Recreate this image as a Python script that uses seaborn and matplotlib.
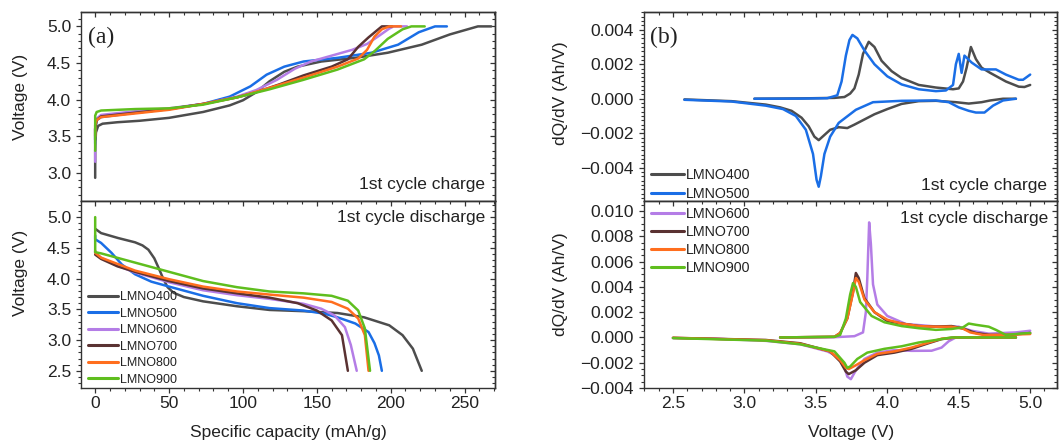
import pandas as pd
import matplotlib
matplotlib.use("Agg")
import matplotlib.pyplot as plt
import seaborn as sns
from matplotlib.ticker import MultipleLocator, FixedLocator, FuncFormatter
from matplotlib.lines import Line2D

samples = ["LMNO400", "LMNO500", "LMNO600", "LMNO700", "LMNO800", "LMNO900"]
colors = ["#4d4d4d", "#1a6ee6", "#b47de6", "#5a3232", "#ff6e1e", "#5fbe1e"]

# ---- (a) first charge: specific capacity (mAh/g) vs voltage (V) ----
cap_chg_400 = [0, 0, 0.5, 2, 5, 15, 30, 50, 73, 91, 100, 109, 118, 128, 137, 153, 176, 198, 221, 240, 259, 268]
v_chg_400 = [2.93, 3.3, 3.55, 3.64, 3.67, 3.69, 3.71, 3.75, 3.83, 3.92, 3.99, 4.1, 4.25, 4.38, 4.45, 4.52, 4.57, 4.64, 4.75, 4.89, 5.0, 5.0]
cap_chg_500 = [0, 0, 1, 4, 27, 50, 73, 91, 105, 116, 128, 141, 164, 187, 205, 219, 230, 238]
v_chg_500 = [3.4, 3.6, 3.72, 3.76, 3.82, 3.87, 3.94, 4.04, 4.18, 4.34, 4.45, 4.52, 4.57, 4.64, 4.75, 4.92, 5.0, 5.0]
cap_chg_600 = [0, 0, 1, 4, 27, 50, 73, 96, 109, 123, 135, 146, 160, 174, 184, 192, 199, 202, 211]
v_chg_600 = [3.15, 3.6, 3.74, 3.79, 3.84, 3.88, 3.94, 4.04, 4.13, 4.27, 4.42, 4.52, 4.6, 4.68, 4.76, 4.87, 4.97, 5.0, 5.0]
cap_chg_700 = [0, 0, 1, 4, 27, 50, 73, 96, 109, 125, 141, 160, 171, 178, 185, 194, 201]
v_chg_700 = [3.45, 3.6, 3.72, 3.77, 3.82, 3.87, 3.94, 4.03, 4.1, 4.21, 4.33, 4.45, 4.55, 4.72, 4.85, 5.0, 5.0]
cap_chg_800 = [0, 0, 1, 4, 27, 50, 73, 96, 118, 141, 164, 178, 184, 189, 194, 199, 207]
v_chg_800 = [3.5, 3.65, 3.72, 3.76, 3.81, 3.86, 3.94, 4.03, 4.16, 4.3, 4.45, 4.56, 4.68, 4.86, 4.96, 5.0, 5.0]
cap_chg_900 = [0, 0, 1, 4, 27, 50, 73, 96, 118, 141, 164, 182, 189, 198, 208, 214, 223]
v_chg_900 = [3.3, 3.78, 3.83, 3.85, 3.87, 3.88, 3.93, 4.03, 4.14, 4.27, 4.41, 4.55, 4.66, 4.83, 4.96, 5.0, 5.0]

# ---- (a) first discharge ----
cap_dis_400 = [0, 4, 15.5, 27, 32, 36, 40, 43, 46, 49, 53, 60, 73, 96, 118, 141, 164, 182, 199, 208, 215, 221]
v_dis_400 = [4.81, 4.74, 4.66, 4.59, 4.54, 4.47, 4.33, 4.17, 4.0, 3.86, 3.77, 3.7, 3.63, 3.55, 3.49, 3.47, 3.44, 3.37, 3.24, 3.08, 2.86, 2.5]
cap_dis_500 = [0, 0, 4, 11, 18, 27, 38, 50, 73, 96, 118, 141, 155, 164, 176, 185, 189, 192, 194]
v_dis_500 = [4.7, 4.64, 4.58, 4.42, 4.23, 4.07, 3.95, 3.87, 3.72, 3.6, 3.52, 3.48, 3.43, 3.37, 3.27, 3.13, 2.95, 2.75, 2.5]
cap_dis_600 = [0, 0, 4, 15, 27, 50, 73, 96, 118, 141, 153, 162, 169, 173, 177]
v_dis_600 = [4.45, 4.42, 4.34, 4.21, 4.1, 3.94, 3.81, 3.73, 3.67, 3.59, 3.51, 3.4, 3.21, 2.92, 2.5]
cap_dis_700 = [0, 4, 15, 27, 50, 73, 96, 118, 137, 150, 160, 167, 171]
v_dis_700 = [4.39, 4.32, 4.2, 4.11, 3.96, 3.84, 3.76, 3.69, 3.6, 3.48, 3.32, 3.08, 2.5]
cap_dis_800 = [0, 0, 4, 27, 50, 73, 96, 118, 141, 160, 171, 178, 182.5, 185]
v_dis_800 = [4.45, 4.42, 4.34, 4.13, 3.99, 3.87, 3.79, 3.74, 3.69, 3.62, 3.51, 3.35, 3.08, 2.5]
cap_dis_900 = [0, 0, 0, 4, 27, 50, 73, 96, 118, 141, 160, 171, 178, 182.5, 186]
v_dis_900 = [5.0, 4.6, 4.43, 4.41, 4.26, 4.11, 3.96, 3.86, 3.79, 3.76, 3.72, 3.64, 3.48, 3.19, 2.5]

# ---- (b) dQ/dV, upper panel: LMNO400 / LMNO500 ----
vq_chg_400 = [3.07, 3.4, 3.63, 3.7, 3.74, 3.77, 3.80, 3.83, 3.87, 3.91, 3.96, 4.03, 4.10, 4.22, 4.34, 4.46, 4.50, 4.53, 4.555, 4.585, 4.62, 4.66, 4.72, 4.83, 4.92, 4.96, 5.0]
dq_chg_400 = [0, 0.00002, 0.00005, 0.0001, 0.0003, 0.0006, 0.0014, 0.0026, 0.0033, 0.003, 0.0022, 0.0016, 0.0012, 0.0008, 0.00065, 0.00055, 0.0006, 0.001, 0.0018, 0.003, 0.0023, 0.0018, 0.0015, 0.001, 0.0007, 0.00068, 0.0008]
vq_dis_400 = [4.9, 4.81, 4.72, 4.66, 4.57, 4.48, 4.34, 4.22, 4.10, 4.0, 3.91, 3.84, 3.77, 3.72, 3.66, 3.6, 3.56, 3.52, 3.49, 3.45, 3.4, 3.33, 3.25, 3.15, 2.91, 2.58]
dq_dis_400 = [0, 0, -0.0001, -0.0002, -0.00028, -0.0002, -0.00012, -0.00014, -0.0003, -0.0006, -0.0009, -0.0012, -0.0015, -0.0017, -0.00165, -0.0018, -0.0021, -0.0024, -0.0022, -0.0016, -0.0011, -0.0007, -0.0005, -0.00034, -0.00014, -0.00004]
vq_chg_500 = [3.07, 3.4, 3.58, 3.65, 3.68, 3.71, 3.735, 3.756, 3.79, 3.84, 3.91, 4.0, 4.1, 4.22, 4.34, 4.41, 4.46, 4.48, 4.50, 4.52, 4.54, 4.59, 4.66, 4.76, 4.83, 4.92, 4.95, 5.0]
dq_chg_500 = [0, 0.00001, 0.00003, 0.0002, 0.001, 0.0025, 0.0034, 0.0037, 0.0035, 0.0028, 0.002, 0.0013, 0.00083, 0.00055, 0.00044, 0.00048, 0.0008, 0.002, 0.0026, 0.0015, 0.0025, 0.0021, 0.0017, 0.0017, 0.0014, 0.0011, 0.0011, 0.0014]
vq_dis_500 = [4.9, 4.81, 4.74, 4.68, 4.62, 4.57, 4.5, 4.43, 4.34, 4.1, 3.9, 3.78, 3.66, 3.6, 3.56, 3.535, 3.52, 3.505, 3.48, 3.43, 3.36, 3.27, 3.15, 2.91, 2.58]
dq_dis_500 = [0, -0.0001, -0.0004, -0.0008, -0.0008, -0.0007, -0.0005, -0.0002, -0.0001, -0.00012, -0.0002, -0.00064, -0.0014, -0.0022, -0.0032, -0.0045, -0.0051, -0.0047, -0.0032, -0.0018, -0.001, -0.0006, -0.0004, -0.00016, -0.00006]

# ---- (b) dQ/dV, lower panel: LMNO600 - LMNO900 ----
vq_chg_600 = [3.25, 3.63, 3.77, 3.83, 3.85, 3.86, 3.873, 3.885, 3.9, 3.93, 4.0, 4.13, 4.36, 4.5, 4.59, 4.71, 4.9, 5.0]
dq_chg_600 = [0, 0.00002, 0.0001, 0.0004, 0.002, 0.0047, 0.0091, 0.0074, 0.0042, 0.0026, 0.0017, 0.00106, 0.00085, 0.00085, 0.00053, 0.0003, 0.0004, 0.00053]
vq_dis_600 = [4.9, 4.48, 4.43, 4.38, 4.31, 4.17, 4.05, 3.93, 3.84, 3.78, 3.745, 3.72, 3.7, 3.65, 3.58, 3.39, 3.15, 2.8, 2.5]
dq_dis_600 = [0, 0, -0.0003, -0.0008, -0.00105, -0.00106, -0.001, -0.0012, -0.0017, -0.0026, -0.0033, -0.0031, -0.0023, -0.0015, -0.0011, -0.00054, -0.00027, -0.0001, -0.00005]
vq_chg_700 = [3.25, 3.63, 3.67, 3.72, 3.76, 3.78, 3.80, 3.84, 3.91, 4.0, 4.1, 4.22, 4.34, 4.45, 4.53, 4.62, 4.72, 4.86, 5.0]
dq_chg_700 = [0, 0.00005, 0.00035, 0.0015, 0.0036, 0.0051, 0.0047, 0.0031, 0.002, 0.0013, 0.0011, 0.0009, 0.00086, 0.0009, 0.0007, 0.00035, 0.0002, 0.0002, 0.00035]
vq_dis_700 = [4.9, 4.48, 4.38, 4.29, 4.17, 4.05, 3.93, 3.84, 3.78, 3.73, 3.71, 3.67, 3.6, 3.39, 3.15, 2.5]
dq_dis_700 = [0, 0, -0.00013, -0.00045, -0.0009, -0.0012, -0.0014, -0.002, -0.0026, -0.0029, -0.0027, -0.0019, -0.0011, -0.00046, -0.0002, -0.00003]
vq_chg_800 = [3.25, 3.63, 3.67, 3.72, 3.76, 3.78, 3.80, 3.84, 3.91, 4.0, 4.1, 4.22, 4.34, 4.45, 4.53, 4.58, 4.67, 4.76, 4.86, 5.0]
dq_chg_800 = [0, 0.00005, 0.00035, 0.0015, 0.0035, 0.0047, 0.0044, 0.003, 0.002, 0.0014, 0.0011, 0.0009, 0.00085, 0.00085, 0.0007, 0.0004, 0.0002, 0.0002, 0.00022, 0.00027]
vq_dis_800 = [4.9, 4.48, 4.38, 4.29, 4.17, 4.05, 3.93, 3.84, 3.78, 3.73, 3.71, 3.67, 3.6, 3.39, 3.15, 2.5]
dq_dis_800 = [0, 0, -0.0001, -0.0004, -0.0008, -0.0011, -0.0013, -0.0018, -0.0022, -0.0025, -0.0024, -0.0018, -0.0011, -0.0005, -0.00022, -0.00003]
vq_chg_900 = [3.25, 3.63, 3.67, 3.71, 3.74, 3.76, 3.78, 3.81, 3.89, 3.98, 4.1, 4.22, 4.34, 4.45, 4.53, 4.57, 4.62, 4.71, 4.76, 4.83, 4.93, 5.0]
dq_chg_900 = [0, 0.00005, 0.0002, 0.0015, 0.0034, 0.0043, 0.004, 0.0028, 0.0017, 0.0012, 0.0009, 0.00073, 0.0006, 0.00067, 0.0008, 0.0011, 0.001, 0.00085, 0.0006, 0.0002, 0.0003, 0.00035]
vq_dis_900 = [4.9, 4.45, 4.34, 4.22, 4.1, 3.98, 3.86, 3.79, 3.74, 3.72, 3.7, 3.63, 3.39, 3.15, 2.5]
dq_dis_900 = [0, 0, -0.0002, -0.0004, -0.0007, -0.0009, -0.0012, -0.0017, -0.0023, -0.0024, -0.002, -0.0011, -0.00054, -0.00025, -0.00005]


def long_frame(entries):
    parts = []
    for name, branch, xs, ys in entries:
        parts.append(pd.DataFrame({"x": xs, "y": ys, "sample": name,
                                   "branch": f"{name}-{branch}"}))
    return pd.concat(parts, ignore_index=True)


charge_df = long_frame([
    ("LMNO400", "c", cap_chg_400, v_chg_400), ("LMNO500", "c", cap_chg_500, v_chg_500),
    ("LMNO600", "c", cap_chg_600, v_chg_600), ("LMNO700", "c", cap_chg_700, v_chg_700),
    ("LMNO800", "c", cap_chg_800, v_chg_800), ("LMNO900", "c", cap_chg_900, v_chg_900)])
discharge_df = long_frame([
    ("LMNO400", "d", cap_dis_400, v_dis_400), ("LMNO500", "d", cap_dis_500, v_dis_500),
    ("LMNO600", "d", cap_dis_600, v_dis_600), ("LMNO700", "d", cap_dis_700, v_dis_700),
    ("LMNO800", "d", cap_dis_800, v_dis_800), ("LMNO900", "d", cap_dis_900, v_dis_900)])
dqdv_low_df = long_frame([
    ("LMNO400", "c", vq_chg_400, dq_chg_400), ("LMNO400", "d", vq_dis_400, dq_dis_400),
    ("LMNO500", "c", vq_chg_500, dq_chg_500), ("LMNO500", "d", vq_dis_500, dq_dis_500)])
dqdv_high_df = long_frame([
    ("LMNO600", "c", vq_chg_600, dq_chg_600), ("LMNO600", "d", vq_dis_600, dq_dis_600),
    ("LMNO700", "c", vq_chg_700, dq_chg_700), ("LMNO700", "d", vq_dis_700, dq_dis_700),
    ("LMNO800", "c", vq_chg_800, dq_chg_800), ("LMNO800", "d", vq_dis_800, dq_dis_800),
    ("LMNO900", "c", vq_chg_900, dq_chg_900), ("LMNO900", "d", vq_dis_900, dq_dis_900)])

sns.set_theme(style="white")
plt.rcParams["font.family"] = ["Liberation Sans", "DejaVu Sans"]
plt.rcParams["axes.unicode_minus"] = True

palette = dict(zip(samples, colors))
ink = "#222222"
spine_c = "#333333"
FS = 12.5
LW = 1.8

fig = plt.figure(figsize=(10.63, 4.46), dpi=100)
y_bot, y_mid, y_top = 0.130, 0.5504, 0.972
xa0, xa1 = 0.0762, 0.4657
xb0, xb1 = 0.6058, 0.9944
ax_a1 = fig.add_axes([xa0, y_mid, xa1 - xa0, y_top - y_mid])
ax_a2 = fig.add_axes([xa0, y_bot, xa1 - xa0, y_mid - y_bot])
ax_b1 = fig.add_axes([xb0, y_mid, xb1 - xb0, y_top - y_mid])
ax_b2 = fig.add_axes([xb0, y_bot, xb1 - xb0, y_mid - y_bot])


def draw(ax, df):
    order = [s for s in samples if s in set(df["sample"])]
    sns.lineplot(data=df, x="x", y="y", hue="sample", hue_order=order,
                 units="branch", estimator=None, sort=False, palette=palette,
                 legend=False, linewidth=LW, ax=ax)


draw(ax_a1, charge_df)
draw(ax_a2, discharge_df)
draw(ax_b1, dqdv_low_df)
draw(ax_b2, dqdv_high_df)


def minus_fmt(decimals):
    def f(v, pos):
        if abs(v) < 1e-12:
            v = 0.0
        return f"{v:.{decimals}f}".replace("-", "\u2212")
    return FuncFormatter(f)


def style(ax, xmaj, xmin, ymajor, ymin, decimals, xlabels):
    ax.xaxis.set_major_locator(MultipleLocator(xmaj))
    ax.xaxis.set_minor_locator(MultipleLocator(xmin))
    ax.yaxis.set_major_locator(FixedLocator(ymajor))
    ax.yaxis.set_minor_locator(MultipleLocator(ymin))
    ax.yaxis.set_major_formatter(minus_fmt(decimals))
    ax.xaxis.set_major_formatter(minus_fmt(1 if xmaj < 1 else 0))
    ax.tick_params(which="both", direction="out", color=spine_c, labelcolor=ink,
                   labelsize=FS, top=False, right=False, bottom=True, left=True)
    ax.tick_params(which="major", length=3.6, width=0.9)
    ax.tick_params(which="minor", length=2.0, width=0.8)
    ax.tick_params(axis="x", pad=2.5, labelbottom=xlabels)
    ax.tick_params(axis="y", pad=3.5)
    for sp in ax.spines.values():
        sp.set_color(spine_c)
        sp.set_linewidth(1.0)
    ax.set_xlabel("")
    ax.set_ylabel("")
    sx = ax.secondary_xaxis("top")
    sx.xaxis.set_major_locator(MultipleLocator(xmaj))
    sx.xaxis.set_minor_locator(MultipleLocator(xmin))
    sx.tick_params(which="both", direction="in", color=spine_c, labeltop=False)
    sx.tick_params(which="major", length=3.6, width=0.9)
    sx.tick_params(which="minor", length=2.0, width=0.8)
    sy = ax.secondary_yaxis("right")
    sy.yaxis.set_major_locator(FixedLocator(ymajor))
    sy.yaxis.set_minor_locator(MultipleLocator(ymin))
    sy.tick_params(which="both", direction="in", color=spine_c, labelright=False)
    sy.tick_params(which="major", length=3.6, width=0.9)
    sy.tick_params(which="minor", length=2.0, width=0.8)
    for sec in (sx, sy):
        for sp in sec.spines.values():
            sp.set_color(spine_c)
            sp.set_linewidth(1.0)


# panel (a)
for ax in (ax_a1, ax_a2):
    ax.set_xlim(-9.6, 270.6)
ax_a1.set_ylim(2.62, 5.19)
ax_a2.set_ylim(2.22, 5.27)
style(ax_a1, 50, 10, [3.0, 3.5, 4.0, 4.5, 5.0], 0.1, 1, False)
style(ax_a2, 50, 10, [2.5, 3.0, 3.5, 4.0, 4.5, 5.0], 0.1, 1, True)

# panel (b)
for ax in (ax_b1, ax_b2):
    ax.set_xlim(2.297, 5.188)
ax_b1.set_ylim(-0.0059, 0.0050)
ax_b2.set_ylim(-0.0040, 0.01083)
style(ax_b1, 0.5, 0.1, [-0.004, -0.002, 0.0, 0.002, 0.004], 0.00025, 3, False)
style(ax_b2, 0.5, 0.1, [-0.004, -0.002, 0.0, 0.002, 0.004, 0.006, 0.008, 0.010], 0.0005, 3, True)

# axis titles
ax_a1.set_ylabel("Voltage (V)", fontsize=FS, color=ink)
ax_a1.yaxis.set_label_coords(-0.128, 0.55)
ax_a2.set_ylabel("Voltage (V)", fontsize=FS, color=ink)
ax_a2.yaxis.set_label_coords(-0.128, 0.615)
ax_a2.set_xlabel("Specific capacity (mAh/g)", fontsize=FS, color=ink)
ax_a2.xaxis.set_label_coords(0.5, -0.197)
ax_b1.set_ylabel("dQ/dV (Ah/V)", fontsize=FS, color=ink)
ax_b1.yaxis.set_label_coords(-0.184, 0.572)
ax_b2.set_ylabel("dQ/dV (Ah/V)", fontsize=FS, color=ink)
ax_b2.yaxis.set_label_coords(-0.184, 0.552)
ax_b2.set_xlabel("Voltage (V)", fontsize=FS, color=ink)
ax_b2.xaxis.set_label_coords(0.501, -0.197)

# panel letters and captions
serif = ["Liberation Serif", "DejaVu Serif"]
ax_a1.text(0.017, 0.925, "(a)", transform=ax_a1.transAxes, family=serif,
           fontsize=17, color=ink, ha="left", va="top")
ax_b1.text(0.0145, 0.925, "(b)", transform=ax_b1.transAxes, family=serif,
           fontsize=17, color=ink, ha="left", va="top")
ax_a1.text(0.976, 0.061, "1st cycle charge", transform=ax_a1.transAxes,
           fontsize=FS, color=ink, ha="right", va="baseline")
ax_a2.text(0.976, 0.886, "1st cycle discharge", transform=ax_a2.transAxes,
           fontsize=FS, color=ink, ha="right", va="baseline")
ax_b1.text(0.976, 0.056, "1st cycle charge", transform=ax_b1.transAxes,
           fontsize=FS, color=ink, ha="right", va="baseline")
ax_b2.text(0.978, 0.88, "1st cycle discharge", transform=ax_b2.transAxes,
           fontsize=FS, color=ink, ha="right", va="baseline")


def handles(names):
    return [Line2D([], [], color=palette[n], lw=2.2) for n in names]


leg_kw = dict(frameon=False, borderpad=0, borderaxespad=0, handletextpad=0.15,
              labelcolor=ink)
ax_a2.legend(handles(samples), samples, loc="lower left", bbox_to_anchor=(0.018, 0.012),
             fontsize=9, handlelength=2.4, labelspacing=0.36, **leg_kw)
ax_b1.legend(handles(samples[:2]), samples[:2], loc="lower left",
             bbox_to_anchor=(0.017, 0.0), fontsize=10.3, handlelength=2.3,
             labelspacing=0.3, **leg_kw)
ax_b2.legend(handles(samples[2:]), samples[2:], loc="upper left",
             bbox_to_anchor=(0.017, 0.968), fontsize=10.3, handlelength=2.3,
             labelspacing=0.3, **leg_kw)

fig.savefig("out.png", dpi=100, facecolor="white")
